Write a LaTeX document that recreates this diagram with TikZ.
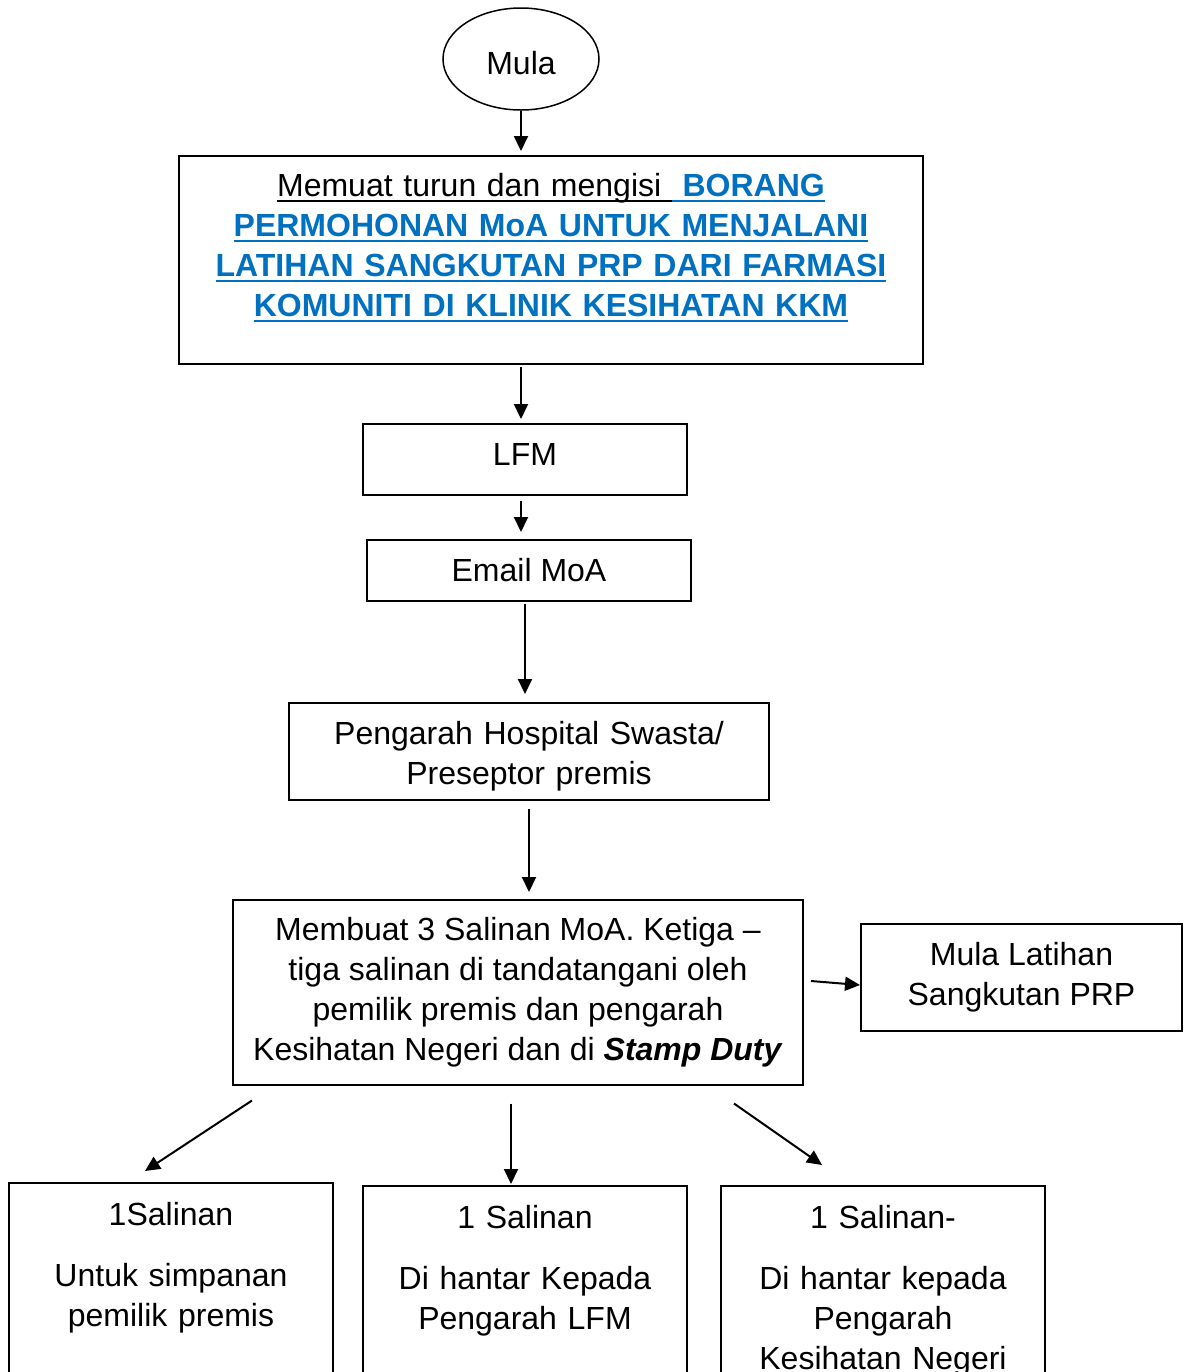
\documentclass[tikz,border=0pt]{standalone}
\usepackage{fontspec}
\setmainfont{Liberation Sans}
\usetikzlibrary{shapes.geometric,arrows.meta}
\definecolor{linkblue}{RGB}{0,112,192}
\newsavebox{\ulbox}
\newcommand{\ulline}[1]{\leavevmode\sbox{\ulbox}{#1}\rlap{\rule[-3pt]{\wd\ulbox}{1pt}}\usebox{\ulbox}}
\newcommand{\formline}[1]{\textcolor{linkblue}{\bfseries\ulline{#1}}}

\begin{document}
\begin{tikzpicture}

	\tikzset{
	stepbox/.style={draw, line width=1pt, align=center, inner sep=0pt, font=\fontsize{16pt}{20pt}\selectfont},
	startnode/.style={ellipse, draw, line width=0.75pt, minimum width=78pt, minimum height=51pt, inner sep=0pt, font=\fontsize{16pt}{20pt}\selectfont},
	copybox/.style={stepbox, minimum width=162pt, text width=154pt, text height=21pt, text depth=99pt},
	arrowline/.style={-{Triangle[length=7.5pt,width=7pt]}, line width=1pt}
	}

	\path[use as bounding box, clip] (-260.5pt,29.5pt) rectangle (331.5pt,-656.5pt);

	% Nodes
	\node[startnode, text height=15.5pt, text depth=0pt] (start) {Mula};
	\node[stepbox, below of=start, node distance=100.5pt, xshift=15pt, minimum width=372pt, minimum height=104pt, text width=364pt, text height=20pt, text depth=84pt] (form) {\ulline{Memuat turun dan mengisi }\formline{\ BORANG}\\
	\formline{PERMOHONAN MoA UNTUK MENJALANI}\\
	\formline{LATIHAN SANGKUTAN PRP DARI FARMASI}\\
	\formline{KOMUNITI DI KLINIK KESIHATAN KKM}};
	\node[stepbox, below of=form, node distance=99.75pt, xshift=-13pt, minimum width=162pt, minimum height=35.5pt, text depth=5.5pt] (lfm) {LFM};
	\node[stepbox, below of=lfm, node distance=55.5pt, xshift=2pt, minimum width=162pt, minimum height=30.5pt] (email) {Email MoA};
	\node[stepbox, below of=email, node distance=90.5pt, minimum width=240pt, text width=232pt, text height=20.75pt, text depth=27.75pt] (pengarah) {Pengarah Hospital Swasta/\\Preseptor premis};
	\node[stepbox, below of=pengarah, node distance=120.5pt, xshift=-5.5pt, minimum width=285pt, minimum height=92.5pt] (salinan) {Membuat 3 Salinan MoA. Ketiga --\\tiga salinan di tandatangani oleh\\pemilik premis dan pengarah\\Kesihatan Negeri dan di \textbf{\textit{Stamp Duty}}};
	\node[stepbox, right of=salinan, node distance=251.75pt, yshift=7.5pt, minimum width=160.5pt, minimum height=53.5pt] (latihan) {Mula Latihan\\Sangkutan PRP};

	\node[copybox, below of=salinan, node distance=156.75pt, xshift=3.5pt] (copy2) {1 Salinan\\[10.5pt]Di hantar Kepada\\Pengarah LFM};
	\node[copybox, left of=copy2, node distance=177pt, yshift=1.5pt] (copy1) {1Salinan\\[10.5pt]Untuk simpanan\\pemilik premis};
	\node[copybox, right of=copy2, node distance=179pt] (copy3) {1 Salinan-\\[10.5pt]Di hantar kepada\\Pengarah\\Kesihatan Negeri};

	% Lines
	\draw[arrowline, shorten >=2pt] (start.south) -- (start.south |- form.north);
	\draw[arrowline, shorten <=1pt, shorten >=2pt] (start |- form.south) -- (start |- lfm.north);
	\draw[arrowline, shorten <=2.5pt, shorten >=3.5pt] (start |- lfm.south) -- (start |- email.north);
	\draw[arrowline, shorten <=1pt, shorten >=4pt] (lfm |- email.south) -- (lfm |- pengarah.north);
	\draw[arrowline, shorten <=4pt, shorten >=3.5pt] (pengarah.south) -- (pengarah.south |- salinan.north);
	\draw[arrowline] ([xshift=3.5pt, yshift=5.75pt]salinan.east) -- ([yshift=-3.75pt]latihan.west);
	\draw[arrowline] ([xshift=-133pt, yshift=-7.25pt]salinan.south) -- ([xshift=-13pt, yshift=5.5pt]copy1.north);
	\draw[arrowline] ([xshift=-3.5pt, yshift=-8.75pt]salinan.south) -- ([xshift=-7pt, yshift=0.5pt]copy2.north);
	\draw[arrowline] ([xshift=108pt, yshift=-8.75pt]salinan.south) -- ([xshift=-30.5pt, yshift=10pt]copy3.north);

\end{tikzpicture}
\end{document}
